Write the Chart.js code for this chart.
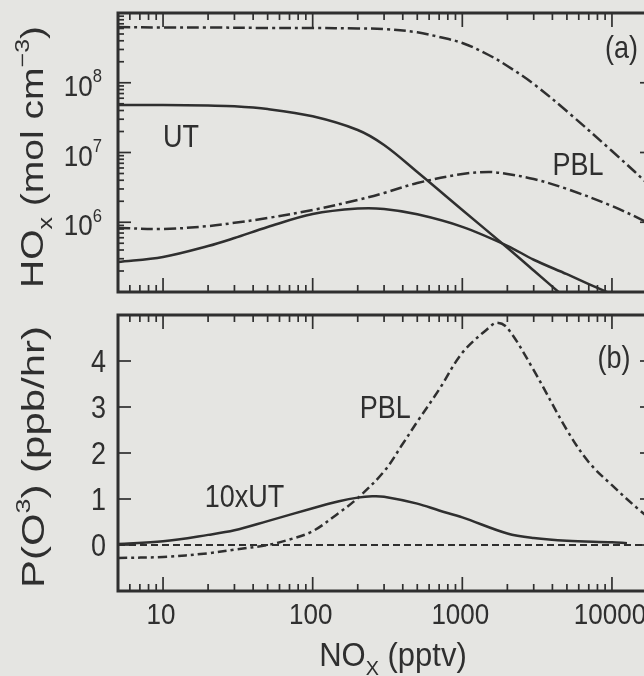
<!DOCTYPE html>
<html><head><meta charset="utf-8">
<script src="https://cdn.jsdelivr.net/npm/chart.js@4.4.1/dist/chart.umd.min.js"></script>
<style>
html,body{margin:0;padding:0;background:#e5e5e2;overflow:hidden;width:644px;height:676px}
#ca{position:absolute;left:0;top:0}
#cb{position:absolute;left:0;top:302px}
</style></head><body>
<canvas id="ca" width="680" height="302"></canvas>
<canvas id="cb" width="680" height="374"></canvas>
<script>
// ---------- data ----------
// Panel (a): HOx concentrations (molecules cm^-3) vs NOx (pptv)
const utHO2Nox = [5, 10, 20, 30, 50, 100, 200, 300, 500, 1000, 2000, 3000, 5000];
const utHO2    = [4.8e7, 4.8e7, 4.7e7, 4.6e7, 4.2e7, 3.3e7, 2.1e7, 1.28e7, 5.25e6, 1.5e6, 4.3e5, 2.03e5, 7.9e4];
const utOHNox  = [5, 10, 20, 30, 50, 100, 200, 300, 500, 1000, 2000, 3000, 5000, 7000, 10000];
const utOH     = [2.7e5, 3.18e5, 4.56e5, 5.94e5, 8.55e5, 1.31e6, 1.57e6, 1.55e6, 1.3e6, 8.6e5, 4.6e5, 2.9e5, 1.8e5, 1.3e5, 9.3e4];
const pblHO2Nox = [5, 10, 20, 50, 100, 200, 300, 500, 700, 1000, 1500, 2000, 3000, 5000, 10000, 20000];
const pblHO2    = [6.3e8, 6.2e8, 6.2e8, 6.1e8, 6.1e8, 6.0e8, 5.9e8, 5.28e8, 4.53e8, 3.72e8, 2.5e8, 1.74e8, 9.6e7, 3.9e7, 1.05e7, 2.7e6];
const pblOHNox  = [5, 10, 20, 30, 50, 100, 200, 300, 500, 1000, 1500, 2000, 3000, 5000, 10000, 20000];
const pblOH     = [8.3e5, 8.0e5, 8.8e5, 9.8e5, 1.15e6, 1.5e6, 2.09e6, 2.63e6, 3.65e6, 4.92e6, 5.25e6, 4.92e6, 4.17e6, 3.0e6, 1.71e6, 8.55e5];
// Panel (b): ozone production P(O3) (ppb/hr) vs NOx (pptv)
const utPO3Nox = [5, 10, 20, 30, 50, 100, 150, 200, 250, 300, 500, 700, 1000, 2000, 3000, 5000, 10000, 12600];
const utPO3x10 = [0.02, 0.08, 0.22, 0.32, 0.52, 0.80, 0.95, 1.03, 1.06, 1.05, 0.90, 0.75, 0.60, 0.25, 0.15, 0.09, 0.06, 0.04];
const pblPO3Nox = [5, 10, 20, 30, 50, 70, 100, 150, 200, 300, 400, 500, 700, 1000, 1500, 1700, 2000, 3000, 5000, 7000, 10000, 15000, 20000];
const pblPO3    = [-0.28, -0.26, -0.18, -0.10, 0.0, 0.12, 0.30, 0.70, 1.02, 1.6, 2.2, 2.68, 3.38, 4.18, 4.72, 4.83, 4.72, 3.8, 2.5, 1.8, 1.3, 0.78, 0.45];
const zeroNox  = [5, 20000];
const zeroLine = [0, 0];
// axes / ticks
const xRange = [5, 20000];
const xTickLabels = ['10', '100', '1000', '10000'];
const yRangeA = [1e5, 1e9];
const yTickExpA = ['6', '7', '8'];
const yRangeB = [-1, 5];
const yTickLabelsB = ['0', '1', '2', '3', '4'];

// ---------- styling helpers ----------
const INK = '#2f2f2f';
const FONT = '"Liberation Sans", Arial, Helvetica, sans-serif';
const pts = (xs, ys) => xs.map((x, i) => ({x, y: ys[i]}));
const SY = 1.15; // the printed figure's lettering is slightly tall

// draws text pieces (with sub/superscripts); len -> stretch along the baseline
function rich(ctx, parts, x, y, size, align, opt = {}) {
  let w = 0;
  const segs = parts.map(p => {
    const s = (p.sub || p.sup) ? size * 0.64 : size;
    ctx.font = s + 'px ' + FONT;
    const m = ctx.measureText(p.t).width;
    w += m;
    return {p, s, m};
  });
  const sx = opt.len ? opt.len / w : (opt.sx || 1);
  const sy = opt.sy || 1;
  ctx.save();
  ctx.translate(x, y);
  ctx.scale(sx, sy);
  let cx = align === 'center' ? -w / 2 : align === 'right' ? -w : 0;
  ctx.textAlign = 'left';
  ctx.textBaseline = 'alphabetic';
  for (const g of segs) {
    ctx.font = g.s + 'px ' + FONT;
    ctx.fillText(g.p.t, cx, g.p.sub ? size * 0.28 : g.p.sup ? -size * 0.45 : 0);
    cx += g.m;
  }
  ctx.restore();
}

const minorOf = (lo, hi) => {
  const out = [];
  for (let d = Math.pow(10, Math.floor(Math.log10(lo))); d < hi; d *= 10)
    for (let k = 2; k <= 9; k++) { const v = k * d; if (v > lo && v < hi) out.push(v); }
  return out;
};

const framePlugin = {
  id: 'frame',
  afterDraw(chart, args, o) {
    const {ctx, chartArea: a, scales} = chart;
    const xs = scales.x, ys = scales.y;
    ctx.save();
    ctx.strokeStyle = INK;
    ctx.fillStyle = INK;
    ctx.lineWidth = 3;
    ctx.strokeRect(a.left, a.top, a.right - a.left, a.bottom - a.top);
    ctx.lineWidth = 1.7;
    const seg = (x1, y1, x2, y2) => { ctx.beginPath(); ctx.moveTo(x1, y1); ctx.lineTo(x2, y2); ctx.stroke(); };
    const xMaj = xTickLabels.map(Number);
    for (const v of xMaj) { const p = xs.getPixelForValue(v); seg(p, a.top, p, a.top + 14); seg(p, a.bottom, p, a.bottom - 14); }
    for (const v of minorOf(xRange[0], xRange[1])) { const p = xs.getPixelForValue(v); seg(p, a.top, p, a.top + 7); seg(p, a.bottom, p, a.bottom - 7); }
    for (const v of o.yMajor) { const p = ys.getPixelForValue(v); seg(a.left, p, a.left + 13, p); seg(a.right, p, a.right - 17, p); }
    for (const v of (o.yMinor || [])) { const p = ys.getPixelForValue(v); seg(a.left, p, a.left + 6, p); seg(a.right, p, a.right - 6, p); }
    o.draw(ctx, chart);
    ctx.restore();
  }
};

function baseOptions(yType, yRange, extra) {
  return {
    responsive: false,
    animation: false,
    devicePixelRatio: 1,
    layout: {padding: extra.padding},
    plugins: {legend: {display: false}, tooltip: {enabled: false}, frame: extra.frame},
    elements: {point: {radius: 0}, line: {borderColor: INK, borderWidth: 2.5, fill: false, tension: 0.35}},
    scales: {
      x: {type: 'logarithmic', min: xRange[0], max: xRange[1], display: false},
      y: {type: yType, min: yRange[0], max: yRange[1], display: false}
    }
  };
}

// ---------- panel (a) ----------
new Chart(document.getElementById('ca'), {
  type: 'line',
  data: {datasets: [
    {label: 'UT HO2', data: pts(utHO2Nox, utHO2)},
    {label: 'UT OH', data: pts(utOHNox, utOH)},
    {label: 'PBL HO2', data: pts(pblHO2Nox, pblHO2), borderDash: [12, 4, 3, 4]},
    {label: 'PBL OH', data: pts(pblOHNox, pblOH), borderDash: [12, 4, 3, 4]}
  ]},
  options: baseOptions('logarithmic', yRangeA, {
    padding: {left: 118, right: 23, top: 13, bottom: 10},
    frame: {
      yMajor: yTickExpA.map(e => Math.pow(10, +e)),
      yMinor: minorOf(yRangeA[0], yRangeA[1]),
      draw(ctx, chart) {
        const xs = chart.scales.x, ys = chart.scales.y, a = chart.chartArea;
        for (const e of yTickExpA) {
          const p = ys.getPixelForValue(Math.pow(10, +e));
          rich(ctx, [{t: '10'}, {t: e, sup: true}], a.left - 16, p + 13, 26, 'right', {sy: SY});
        }
        rich(ctx, [{t: 'UT'}], xs.getPixelForValue(10), ys.getPixelForValue(1.2e7), 27, 'left', {sy: SY});
        rich(ctx, [{t: 'PBL'}], xs.getPixelForValue(4000), ys.getPixelForValue(4.8e6), 27, 'left', {sy: SY});
        rich(ctx, [{t: '(a)'}], xs.getPixelForValue(9000), ys.getPixelForValue(2.3e8), 27, 'left', {sy: SY});
        ctx.save();
        ctx.translate(43, 157);
        ctx.rotate(-Math.PI / 2);
        rich(ctx, [{t: 'HO'}, {t: 'x', sub: true}, {t: ' (mol cm'}, {t: '\u22123', sup: true}, {t: ')'}], 0, 0, 31, 'center', {len: 262});
        ctx.restore();
      }
    }
  })
  , plugins: [framePlugin]
});

// ---------- panel (b) ----------
new Chart(document.getElementById('cb'), {
  type: 'line',
  data: {datasets: [
    {label: 'zero', data: pts(zeroNox, zeroLine), borderDash: [7, 4], borderWidth: 2, tension: 0},
    {label: '10xUT', data: pts(utPO3Nox, utPO3x10)},
    {label: 'PBL', data: pts(pblPO3Nox, pblPO3), borderDash: [9, 4, 3, 4]}
  ]},
  options: baseOptions('linear', yRangeB, {
    padding: {left: 118, right: 23, top: 13, bottom: 85},
    frame: {
      yMajor: yTickLabelsB.map(Number),
      draw(ctx, chart) {
        const xs = chart.scales.x, ys = chart.scales.y, a = chart.chartArea;
        for (const t of yTickLabelsB) {
          rich(ctx, [{t}], a.left - 12, ys.getPixelForValue(+t) + 11, 27, 'right', {sy: SY});
        }
        for (const t of xTickLabels) {
          rich(ctx, [{t}], xs.getPixelForValue(+t) - 2, a.bottom + 33, 26, 'center', {sy: SY});
        }
        rich(ctx, [{t: 'NO'}, {t: 'X', sub: true}, {t: ' (pptv)'}], 393, a.bottom + 75, 31, 'center', {sy: 1.05});
        rich(ctx, [{t: '10xUT'}], xs.getPixelForValue(19), ys.getPixelForValue(0.83), 27, 'left', {sy: SY});
        rich(ctx, [{t: 'PBL'}], xs.getPixelForValue(206), ys.getPixelForValue(2.76), 27, 'left', {sy: SY});
        rich(ctx, [{t: '(b)'}], xs.getPixelForValue(8000), ys.getPixelForValue(3.85), 27, 'left', {sy: SY});
        ctx.save();
        ctx.translate(44, 155);
        ctx.rotate(-Math.PI / 2);
        rich(ctx, [{t: 'P(O'}, {t: '3', sup: true}, {t: ') (ppb/hr)'}], 0, 0, 31, 'center', {len: 262});
        ctx.restore();
      }
    }
  })
  , plugins: [framePlugin]
});
</script>
</body></html>
